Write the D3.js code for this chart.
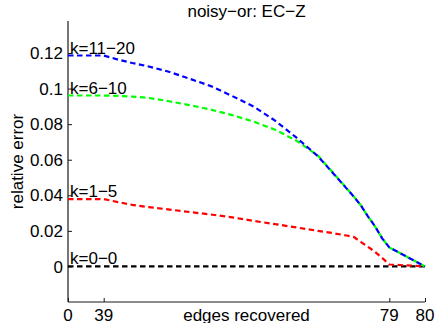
<!DOCTYPE html>
<html>
<head>
<meta charset="utf-8">
<script src="https://cdn.jsdelivr.net/npm/d3@7"></script>
<style>
  body { margin: 0; background: #fff; }
  svg { display: block; font-family: "Liberation Sans", Arial, sans-serif; }
</style>
</head>
<body>
<svg id="chart" width="437" height="323"></svg>
<script>
'use strict';

// edges recovered (x) shared by every series
const edges = [0, 39, 41, 43, 45, 48, 51, 54, 57, 60, 63, 66, 69, 71, 73, 74, 75, 76, 77, 78, 79, 80];

const k11to20 = [0.1186, 0.1186, 0.1163, 0.1144, 0.1127, 0.1096, 0.1056, 0.1014, 0.0958, 0.0899, 0.0820,
  0.0724, 0.0620, 0.0530, 0.0439, 0.0394, 0.0344, 0.0282, 0.0225, 0.0158, 0.0107, 0];
const k6to10 = [0.0961, 0.0961, 0.0959, 0.0955, 0.0949, 0.0930, 0.0907, 0.0882, 0.0851, 0.0814, 0.0769,
  0.0707, 0.0623, 0.0532, 0.0440, 0.0394, 0.0344, 0.0282, 0.0225, 0.0158, 0.0107, 0];
const k1to5 = [0.0379, 0.0379, 0.0362, 0.0346, 0.0335, 0.0321, 0.0306, 0.0292, 0.0276, 0.0256, 0.0238,
  0.0219, 0.0200, 0.0188, 0.0174, 0.0166, 0.0138, 0.0111, 0.0082, 0.0048, 0.0011, 0];
const k0to0 = [0, 0, 0, 0, 0, 0, 0, 0, 0, 0, 0, 0, 0, 0, 0, 0, 0, 0, 0, 0, 0, 0];

const seriesLabels = ['k=0\u22120', 'k=1\u22125', 'k=6\u221210', 'k=11\u221220'];
const seriesColors = ['#000000', '#ff0000', '#00ff00', '#0000ff'];

const xTicks = [0, 39, 79, 80];
const yTicks = [0, 0.02, 0.04, 0.06, 0.08, 0.1, 0.12];

const svg = d3.select('#chart');
const plotLeft = 68, plotRight = 425, plotTop = 21, plotBottom = 302;

// the x axis is not linear: 0..39 and 79..80 each take a tenth of the width
const x = d3.scaleLinear()
  .domain(xTicks)
  .range([plotLeft, plotLeft + (plotRight - plotLeft) * 0.1, plotLeft + (plotRight - plotLeft) * 0.9, plotRight]);
const y = d3.scaleLinear().domain([-0.02, 0.138]).range([plotBottom, plotTop]);

const fontSize = 17;

// axes, ticks pointing inward
const yAxis = svg.append('g')
  .attr('transform', `translate(${plotLeft},0)`)
  .call(d3.axisRight(y).tickValues(yTicks).tickSize(4).tickFormat(() => ''));
const xAxis = svg.append('g')
  .attr('transform', `translate(0,${plotBottom})`)
  .call(d3.axisTop(x).tickValues(xTicks).tickSize(4).tickFormat(() => ''));

[xAxis, yAxis].forEach(ax => {
  ax.select('.domain').attr('stroke', '#1a1a1a').attr('stroke-width', 1.2);
  ax.selectAll('.tick line').attr('stroke', '#1a1a1a');
});
// draw the domain paths without the end caps
yAxis.select('.domain').attr('d', `M0,${plotBottom}V${plotTop}`);
xAxis.select('.domain').attr('d', `M${plotLeft},0H${plotRight}`);

svg.append('g').selectAll('text').data(yTicks).join('text')
  .attr('x', plotLeft - 5)
  .attr('y', d => y(d))
  .attr('dy', '0.36em')
  .attr('text-anchor', 'end')
  .attr('font-size', fontSize)
  .text(d => d3.format('~g')(d));

svg.append('g').selectAll('text').data(xTicks).join('text')
  .attr('x', d => x(d))
  .attr('y', 320.5)
  .attr('text-anchor', 'middle')
  .attr('font-size', fontSize)
  .text(d => d);

svg.append('text')
  .attr('x', (plotLeft + plotRight) / 2)
  .attr('y', 320.5)
  .attr('text-anchor', 'middle')
  .attr('font-size', fontSize)
  .text('edges recovered');

svg.append('text')
  .attr('transform', `translate(22.5,${(plotTop + plotBottom) / 2}) rotate(-90)`)
  .attr('text-anchor', 'middle')
  .attr('font-size', fontSize)
  .text('relative error');

svg.append('text')
  .attr('x', (plotLeft + plotRight) / 2)
  .attr('y', 16.7)
  .attr('text-anchor', 'middle')
  .attr('font-size', fontSize)
  .text('noisy\u2212or: EC\u2212Z');

// series, drawn so that blue ends up on top
const seriesValues = [k0to0, k1to5, k6to10, k11to20];
const line = d3.line().x(d => x(d[0])).y(d => y(d[1]));

seriesValues.forEach((values, i) => {
  const points = edges.map((e, j) => [e, values[j]]);
  svg.append('path')
    .datum(points)
    .attr('d', line)
    .attr('fill', 'none')
    .attr('stroke', seriesColors[i])
    .attr('stroke-width', 2.2)
    .attr('stroke-dasharray', '5.5,3.5');

  svg.append('text')
    .attr('x', x(0) + 2)
    .attr('y', y(values[0]) - 2)
    .attr('font-size', fontSize)
    .text(seriesLabels[i]);
});
</script>
</body>
</html>
